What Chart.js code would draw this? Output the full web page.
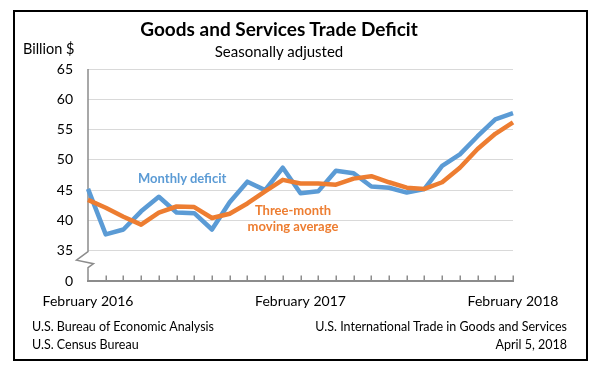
<!DOCTYPE html>
<html>
<head>
<meta charset="utf-8">
<script src="https://cdn.jsdelivr.net/npm/chart.js@4/dist/chart.umd.min.js"></script>
<style>
  html, body { margin:0; padding:0; background:#fff; width:599px; height:372px; overflow:hidden; }
  #wrap { position:relative; width:599px; height:372px; }
  #frame { position:absolute; left:13px; top:10px; width:571px; height:347px; border:2px solid #000; }
  canvas { position:absolute; left:0; top:0; }
  .t { position:absolute; font-family:Lato, "Open Sans", sans-serif; white-space:nowrap; color:#000; line-height:1.2; }
</style>
</head>
<body>
<div id="wrap">
  <div id="frame"></div>
  <canvas id="c" width="599" height="372"></canvas>
  <div class="t" id="title" style="left:279px; top:18px; transform:translateX(-50%); font-size:19px; font-weight:700;">Goods and Services Trade Deficit</div>
  <div class="t" id="sub" style="left:279px; top:42px; transform:translateX(-50%); font-size:15px;">Seasonally adjusted</div>
  <div class="t" id="unit" style="left:23px; top:40px; font-size:14.5px;">Billion $</div>
  <div class="t" id="lblM" style="left:138px; top:171px; font-size:13px; font-weight:700; color:#5B9BD5;">Monthly deficit</div>
  <div class="t" id="lblA" style="left:293px; top:201.5px; transform:translateX(-50%); font-size:13px; font-weight:700; color:#ED7D31; text-align:center; line-height:16.7px;">Three-month<br>moving average</div>
  <div class="t" style="left:32px; top:318.5px; font-size:12.5px;">U.S. Bureau of Economic Analysis</div>
  <div class="t" style="left:32px; top:336.5px; font-size:12.5px;">U.S. Census Bureau</div>
  <div class="t" style="right:32px; top:318.5px; font-size:12.5px; text-align:right;">U.S. International Trade in Goods and Services</div>
  <div class="t" style="right:32px; top:336.5px; font-size:12.5px; text-align:right;">April 5, 2018</div>
</div>
<script>
// ---- data ----
const months = [
  'Feb 2016','Mar 2016','Apr 2016','May 2016','Jun 2016','Jul 2016','Aug 2016','Sep 2016',
  'Oct 2016','Nov 2016','Dec 2016','Jan 2017','Feb 2017','Mar 2017','Apr 2017','May 2017',
  'Jun 2017','Jul 2017','Aug 2017','Sep 2017','Oct 2017','Nov 2017','Dec 2017','Jan 2018','Feb 2018'
];
const xTickLabels = ['February 2016', 'February 2017', 'February 2018'];
const monthlyDeficit = [45.2, 37.7, 38.5, 41.5, 43.9, 41.3, 41.2, 38.5, 43.0, 46.4, 45.0, 48.7,
                        44.5, 44.8, 48.2, 47.8, 45.6, 45.4, 44.6, 45.2, 49.0, 50.9, 53.9, 56.7, 57.7];
const movingAverage = [43.4, 42.1, 40.6, 39.3, 41.3, 42.3, 42.2, 40.4, 41.1, 42.8, 44.8, 46.7,
                       46.1, 46.1, 45.9, 46.9, 47.3, 46.3, 45.4, 45.2, 46.3, 48.7, 51.8, 54.3, 56.2];
const yTickValues = [35, 40, 45, 50, 55, 60, 65];
const yBreakValue = 30;      // axis position where the broken axis shows zero
const yBreakLabel = '0';

// ---- styles ----
const BLUE = '#5B9BD5', ORANGE = '#ED7D31', AXIS = '#8C8C8C', GRID = '#D9D9D9';
const FONT = 'Lato, "Open Sans", sans-serif';

const axisDecor = {
  id: 'axisDecor',
  beforeDatasetsDraw(chart) {
    const { ctx, scales: { x, y } } = chart;
    const ax = x.getPixelForValue(0);
    const yTop = y.getPixelForValue(y.max);
    const y35 = y.getPixelForValue(yTickValues[0]);
    const yBot = y.getPixelForValue(yBreakValue);
    ctx.save();
    ctx.strokeStyle = AXIS;
    ctx.lineWidth = 1.5;
    ctx.beginPath();
    ctx.moveTo(ax, yTop);
    ctx.lineTo(ax, y35 + 1);
    ctx.lineTo(ax - 11.5, y35 + 9.5);
    ctx.lineTo(ax + 5.5, y35 + 13);
    ctx.lineTo(ax, y35 + 17);
    ctx.lineTo(ax, yBot);
    ctx.stroke();
    ctx.beginPath();
    for (let i = 1; i < months.length; i++) {
      const px = Math.round(x.getPixelForValue(i)) + 0.25;
      ctx.moveTo(px, yBot);
      ctx.lineTo(px, yBot - 5.5);
    }
    ctx.stroke();
    ctx.restore();
  }
};

new Chart(document.getElementById('c'), {
  type: 'line',
  data: {
    labels: months,
    datasets: [
      { label: 'Three-month moving average', data: movingAverage, borderColor: ORANGE, backgroundColor: ORANGE,
        borderWidth: 4.5, pointRadius: 0, tension: 0, borderJoinStyle: 'round', order: 0 },
      { label: 'Monthly deficit', data: monthlyDeficit, borderColor: BLUE, backgroundColor: BLUE,
        borderWidth: 4.5, pointRadius: 0, tension: 0, borderJoinStyle: 'round', order: 1 }
    ]
  },
  options: {
    responsive: false,
    animation: false,
    devicePixelRatio: 1,
    layout: { padding: { left: 0, top: 69, right: 86, bottom: 51 } },
    plugins: { legend: { display: false }, tooltip: { enabled: false }, title: { display: false } },
    scales: {
      x: {
        type: 'category',
        offset: false,
        grid: { display: false, drawTicks: false },
        border: { display: true, color: AXIS, width: 2 },
        ticks: {
          autoSkip: false, maxRotation: 0, padding: 12, color: '#000',
          font: { family: FONT, size: 14 },
          callback: (v, i) => (i % 12 === 0 ? xTickLabels[i / 12] : '')
        },
        afterFit: (s) => { s.height = 40; }
      },
      y: {
        min: yBreakValue, max: 65,
        grid: { color: (c) => (c.tick && c.tick.value === yBreakValue ? 'rgba(0,0,0,0)' : GRID), lineWidth: 1, drawTicks: false },
        border: { display: false },
        ticks: {
          stepSize: 5, padding: 15, color: '#000',
          font: { family: FONT, size: 14 },
          callback: (v) => (v === yBreakValue ? yBreakLabel : (yTickValues.includes(v) ? String(v) : ''))
        },
        afterFit: (s) => { s.width = 88; }
      }
    }
  },
  plugins: [axisDecor]
});
</script>
</body>
</html>
